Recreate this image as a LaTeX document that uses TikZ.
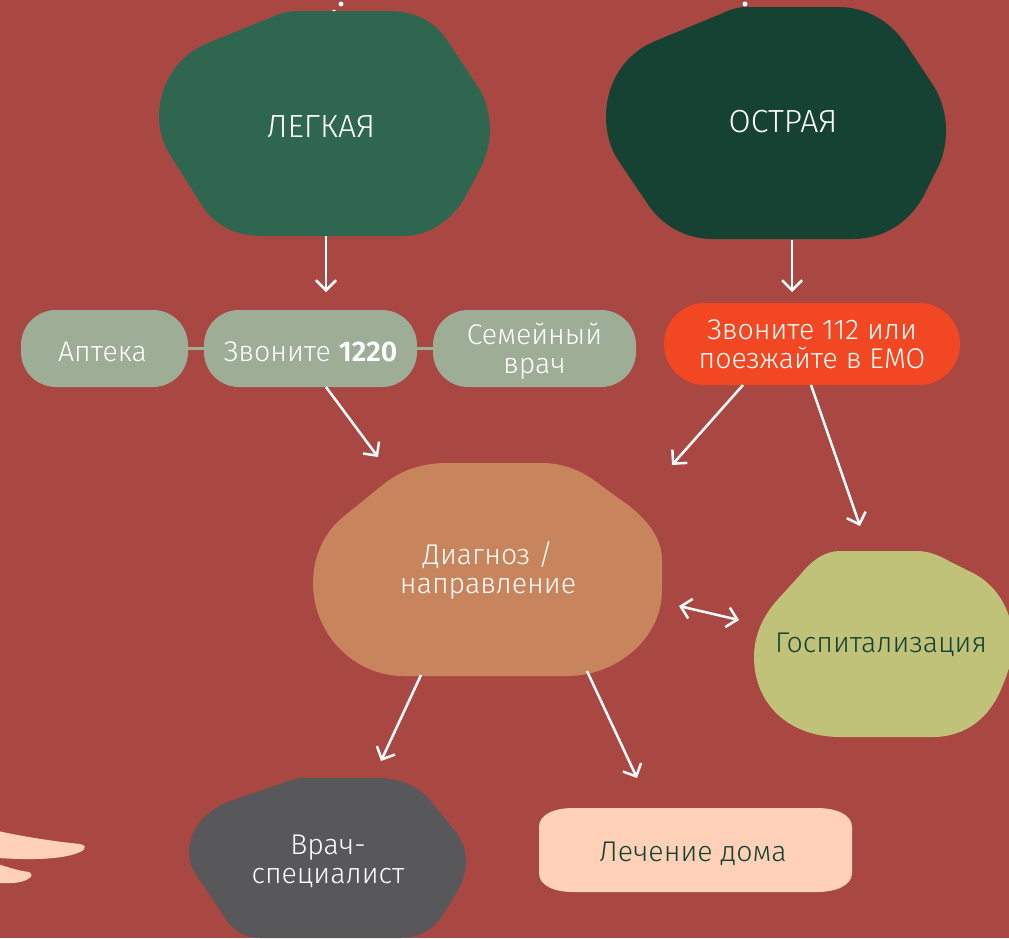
\documentclass[tikz,border=0pt]{standalone}
\usepackage{fontspec}
\setmainfont{Fira Sans Light}[BoldFont={Fira Sans SemiBold}]
\usetikzlibrary{arrows.meta}
\definecolor{bgc}{HTML}{A94743}
\definecolor{greenc}{HTML}{2F6650}
\definecolor{darkc}{HTML}{154232}
\definecolor{sagec}{HTML}{9DAD96}
\definecolor{orangec}{HTML}{C8845C}
\definecolor{limec}{HTML}{C0C27A}
\definecolor{greyc}{HTML}{58575A}
\definecolor{peachc}{HTML}{FFD1B8}
\definecolor{redc}{HTML}{F14722}
\newcommand\dn[1]{\raisebox{-3pt}[\height][\depth]{#1}}
\tikzset{
  lbl/.style={text=white,align=center,inner sep=0pt,font=\fontsize{28.5}{29}\selectfont},
  caps/.style={lbl,font=\fontsize{32}{32}\selectfont},
  dlbl/.style={lbl,text=darkc},
  pill/.style={lbl,fill=sagec,rounded corners=35pt,minimum height=77pt},
  arrow/.style={draw=white,line width=2.5pt,-{Straight Barb[length=10pt,width=20pt,line width=2.5pt]}},
  darrow/.style={draw=white,line width=2.5pt,{Straight Barb[length=10pt,width=20pt,line width=2.5pt]}-{Straight Barb[length=10pt,width=20pt,line width=2.5pt]}},
  link/.style={draw=sagec,line width=2.3pt}
}
\begin{document}
\begin{tikzpicture}[x=1pt,y=-1pt]
\useasboundingbox (0,0) rectangle (1009,938);
\clip (0,0) rectangle (1009,938);
\fill[bgc] (0,0) rectangle (1009,938);
% blobs
\fill[greenc] (300,11) -- (387,11) .. controls (412,11) and (433,19) .. (447,40) -- (478,87) .. controls (486,99) and (490,115) .. (490,130) .. controls (490,142) and (487,154) .. (483,163) -- (468,192) .. controls (454,219) and (430,236) .. (403,236) -- (263,236) .. controls (238,236) and (216,227) .. (203,207) -- (172,158) .. controls (164,146) and (159,132) .. (159,117) .. controls (159,84) and (178,55) .. (208,43) -- (277,15) .. controls (284,12) and (292,11) .. (300,11) -- cycle;
\fill[darkc] (747,7) -- (838,7) .. controls (865,7) and (889,20) .. (905,43) -- (933,85) .. controls (941,97) and (946,114) .. (946,130) .. controls (946,142) and (944,153) .. (940,163) -- (923,197) .. controls (908,224) and (882,239) .. (853,239) -- (713,239) .. controls (686,239) and (662,226) .. (647,203) -- (618,160) .. controls (610,148) and (606,132) .. (606,117) .. controls (606,83) and (624,55) .. (653,42) -- (723,13) .. controls (731,9) and (739,7) .. (747,7) -- cycle;
\fill[orangec] (447,463) -- (543,463) .. controls (566,463) and (586,473) .. (603,487) -- (628,505) .. controls (650,522) and (662,540) .. (662,560) -- (662,590) .. controls (662,640) and (615,676) .. (567,676) -- (403,676) .. controls (355,676) and (313,635) .. (313,583) .. controls (313,555) and (325,532) .. (343,517) -- (380,487) .. controls (400,470) and (422,463) .. (447,463) -- cycle;
\fill[limec] (840,551) -- (917,551) .. controls (928,551) and (938,555) .. (947,560) -- (973,573) .. controls (998,586) and (1013,612) .. (1013,643) .. controls (1013,658) and (1008,673) .. (1002,687) .. controls (990,718) and (965,737) .. (933,737) -- (840,737) .. controls (790,737) and (754,705) .. (754,657) .. controls (754,635) and (763,615) .. (780,597) -- (800,575) .. controls (812,560) and (825,551) .. (840,551) -- cycle;
\fill[greyc] (303,778) -- (377,778) .. controls (398,778) and (417,785) .. (430,800) -- (455,831) .. controls (462,840) and (466,850) .. (466,861) .. controls (466,871) and (463,881) .. (458,890) -- (443,915) .. controls (433,930) and (418,938) .. (400,938) -- (260,938) .. controls (245,938) and (232,930) .. (223,915) -- (202,883) .. controls (194,873) and (189,864) .. (189,853) .. controls (189,828) and (207,810) .. (230,801) -- (283,783) .. controls (290,780) and (296,778) .. (303,778) -- cycle;
\fill[peachc] (573,808) -- (817,808) .. controls (835,808) and (852,814) .. (852,827) -- (852,873) .. controls (852,886) and (835,892) .. (817,892) -- (573,892) .. controls (555,892) and (539,886) .. (539,873) -- (539,827) .. controls (539,814) and (555,808) .. (573,808) -- cycle;
% hand
\fill[peachc] (-2,831) .. controls (30,838) and (60,842) .. (80,844) .. controls (86,845) and (86,848) .. (82,851) .. controls (65,860) and (30,860) .. (-2,858) -- cycle;
\fill[peachc] (-2,864) .. controls (10,868) and (20,871) .. (29,872) .. controls (33,874) and (32,877) .. (28,879) .. controls (20,884) and (8,883) .. (-2,883) -- cycle;
% dots
\fill[white] (341,4) circle (2.5pt);
\fill[white] (745,4) circle (2.5pt);
\fill[white] (334,10.5) ellipse (1.8pt and 0.8pt);
% pills
\node[pill,minimum width=167pt] (apteka) at (104.5,348.5) {\dn{\hspace*{-4pt}Аптека}};
\node[pill,minimum width=213pt] (zvon) at (310.5,348.5) {\dn{Звоните \textbf{1220}}};
\node[pill,minimum width=203pt] (semya) at (534.5,348.5) {\dn{Семейный}\\\dn{врач}};
\node[lbl,fill=redc,rounded corners=41pt,minimum width=296pt,minimum height=82pt] (emo) at (812,344) {Звоните 112 или\\поезжайте в ЕМО};
\draw[link] (apteka.east) -- (zvon.west);
\draw[link] (zvon.east) -- (semya.west);
% labels
\node[caps] (legk) at (321,126.5) {ЛЕГКАЯ};
\node[caps] (ostr) at (783,122) {ОСТРАЯ};
\node[lbl] (diag) at (488,570.5) {Диагноз /\\направление};
\node[dlbl] (gosp) at (881,645) {Госпитализация};
\node[lbl] (vrach) at (328,861) {Врач-\\специалист};
\node[dlbl] (lech) at (693,854) {Лечение дома};
% connector ends
\coordinate (a1) at (326,236); \coordinate (a2) at (326,292);
\coordinate (b1) at (792,240); \coordinate (b2) at (792,292);
\coordinate (c1) at (326,387); \coordinate (c2) at (378,457);
\coordinate (d1) at (743,385); \coordinate (d2) at (672,465);
\coordinate (e1) at (811,385); \coordinate (e2) at (860,526);
\coordinate (f1) at (421,675); \coordinate (f2) at (381,761);
\coordinate (g1) at (587,671); \coordinate (g2) at (637,778);
\coordinate (h1) at (679,606); \coordinate (h2) at (739,620);
\draw[arrow] (a1) -- (a2);
\draw[arrow] (b1) -- (b2);
\draw[arrow] (c1) -- (c2);
\draw[arrow] (d1) -- (d2);
\draw[arrow] (e1) -- (e2);
\draw[arrow] (f1) -- (f2);
\draw[arrow] (g1) -- (g2);
\draw[darrow] (h1) -- (h2);
\end{tikzpicture}
\end{document}
